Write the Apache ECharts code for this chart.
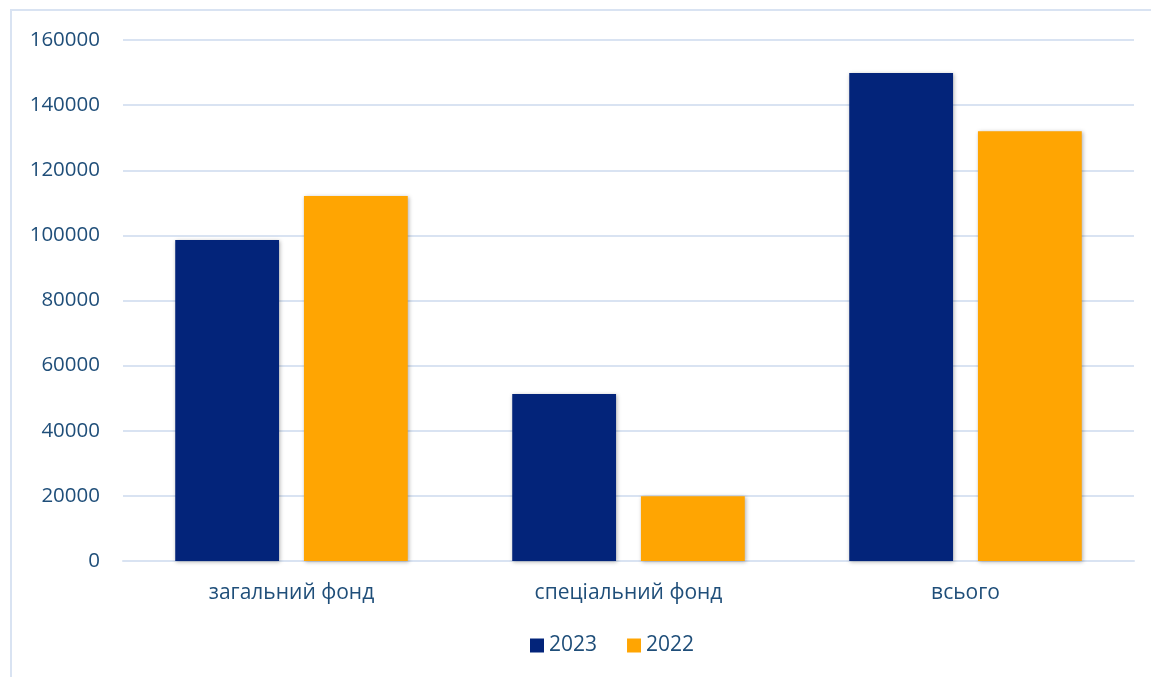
<!DOCTYPE html>
<html><head><meta charset="utf-8">
<script src="https://cdn.jsdelivr.net/npm/echarts@6/dist/echarts.min.js"></script>
<style>html,body{margin:0;padding:0;background:#fff}#c{width:1151px;height:677px}</style>
</head><body><div id="c"></div>
<script>
const categories = ['загальний фонд', 'спеціальний фонд', 'всього'];
const seriesNames = ['2023', '2022'];
const values2023 = [98600, 51300, 149900];
const values2022 = [112100, 19900, 132000];
const colors = ['#03247A', '#FFA502'];
const textColor = '#1F4E79';

const chart = echarts.init(document.getElementById('c'));
const barStyle = c => ({color: c, shadowBlur: 4, shadowColor: 'rgba(0,0,0,0.3)', shadowOffsetX: 1, shadowOffsetY: 1});
chart.setOption({
  animation: false,
  backgroundColor: '#fff',
  graphic: [{type: 'rect', shape: {x: 11, y: 10, width: 1300, height: 800}, style: {fill: 'none', stroke: '#D9E3F2', lineWidth: 2}, silent: true, z: -1}],
  grid: {left: 123, right: 17, top: 40, bottom: 116},
  legend: {
    data: seriesNames, top: 630, left: 525, itemWidth: 14, itemHeight: 14, itemGap: 30, icon: 'rect',
    textStyle: {color: textColor, fontSize: 21, fontFamily: 'Open Sans'}
  },
  xAxis: {
    type: 'category', data: categories,
    axisLine: {lineStyle: {color: '#D9E3F2', width: 2}}, axisTick: {show: false},
    axisLabel: {color: textColor, fontSize: 21, fontFamily: 'Open Sans', margin: 22}
  },
  yAxis: {
    type: 'value', min: 0, max: 160000, interval: 20000,
    axisLine: {show: false}, axisTick: {show: false},
    splitLine: {lineStyle: {color: '#D9E3F2', width: 2}},
    axisLabel: {color: textColor, fontSize: 20.5, fontFamily: 'Open Sans', margin: 23, formatter: v => String(v)}
  },
  series: [
    {name: seriesNames[0], type: 'bar', data: values2023, itemStyle: barStyle(colors[0]), barGap: '24%', barCategoryGap: '31%'},
    {name: seriesNames[1], type: 'bar', data: values2022, itemStyle: barStyle(colors[1])}
  ]
});
</script></body></html>
